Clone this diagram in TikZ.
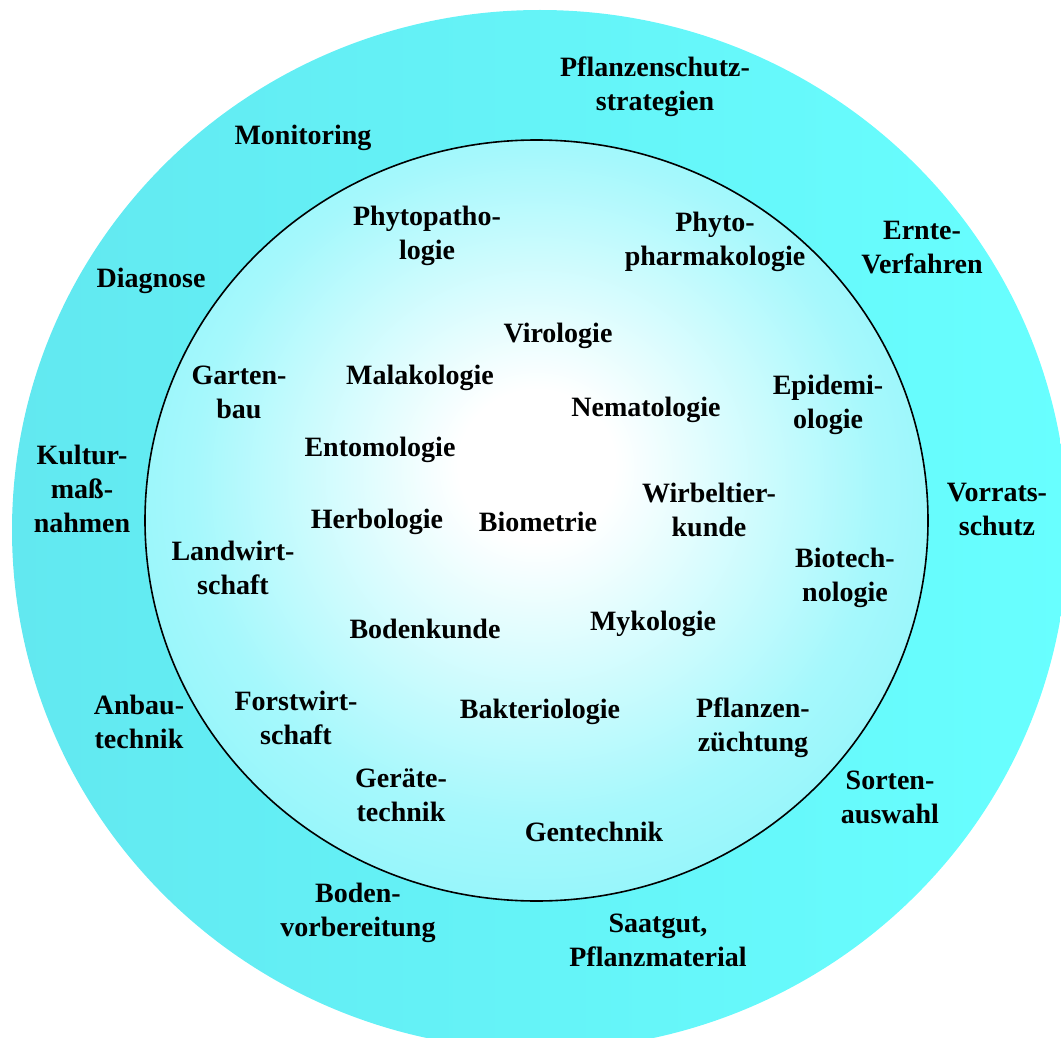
\documentclass[tikz,border=0pt]{standalone}
\usepackage{fontspec}
\setmainfont{Liberation Serif}
\definecolor{ringL}{RGB}{98,232,240}
\definecolor{ringR}{RGB}{104,255,255}
\definecolor{innerMid}{RGB}{165,248,252}
\definecolor{innerEdge}{RGB}{88,236,245}
\pgfdeclareradialshading{innerglow}{\pgfpoint{0bp}{4bp}}{color(0bp)=(white); color(5bp)=(white); color(22bp)=(innerMid); color(50bp)=(innerEdge)}
\begin{document}
\begin{tikzpicture}[x=1pt, y=-1pt,
  lbl/.style={font=\fontsize{28}{34}\selectfont\bfseries, align=center, inner sep=0pt}]
\useasboundingbox (0,0) rectangle (1061,1038);
\begin{scope}
  \clip (0,0) rectangle (1061,1038);
  \shade[left color=ringL, right color=ringR] (540,530) ellipse [x radius=528, y radius=520];
\end{scope}
\shade[shading=innerglow] (536.5,520.5) ellipse [x radius=391.5, y radius=380.5];
\draw[line width=1.6pt] (536.5,520.5) ellipse [x radius=391.5, y radius=380.5];
% outer ring labels
\node[lbl] (psstrat) at (655,87) {Pflanzenschutz-\\strategien};
\node[lbl] (monit) at (303,138) {Monitoring};
\node[lbl] (diag) at (151,281) {Diagnose};
\node[lbl] (ernte) at (922,248) {Ernte-\\Verfahren};
\node[lbl] (kultur) at (82,489) {Kultur-\\maß-\\nahmen};
\node[lbl] (vorrat) at (997,510) {Vorrats-\\schutz};
\node[lbl] (anbau) at (139,722) {Anbau-\\technik};
\node[lbl] (sorten) at (890,797) {Sorten-\\auswahl};
\node[lbl] (bodenv) at (358,913) {Boden-\\vorbereitung};
\node[lbl] (saatgut) at (658,940) {Saatgut,\\Pflanzmaterial};
% inner labels
\node[lbl] (phpath) at (427,236) {Phytopatho-\\logie};
\node[lbl] (phpharm) at (715,242) {Phyto-\\pharmakologie};
\node[lbl] (viro) at (558,336) {Virologie};
\node[lbl] (garten) at (239,392) {Garten-\\bau};
\node[lbl] (malako) at (420,378) {Malakologie};
\node[lbl] (nemato) at (646,410) {Nematologie};
\node[lbl] (epidem) at (828,405) {Epidemi-\\ologie};
\node[lbl] (entomo) at (380,450) {Entomologie};
\node[lbl] (herbo) at (377,522) {Herbologie};
\node[lbl] (biom) at (538,522) {Biometrie};
\node[lbl] (wirbel) at (709,510) {Wirbeltier-\\kunde};
\node[lbl] (landw) at (233,568) {Landwirt-\\schaft};
\node[lbl] (biotech) at (845,578) {Biotech-\\nologie};
\node[lbl] (mykol) at (653,624) {Mykologie};
\node[lbl] (bodenk) at (425,629) {Bodenkunde};
\node[lbl] (forst) at (296,718) {Forstwirt-\\schaft};
\node[lbl] (bakter) at (540,712) {Bakteriologie};
\node[lbl] (pflzucht) at (753,728) {Pflanzen-\\züchtung};
\node[lbl] (geraete) at (401,795) {Geräte-\\technik};
\node[lbl] (gentech) at (594,832) {Gentechnik};
\end{tikzpicture}
\end{document}
